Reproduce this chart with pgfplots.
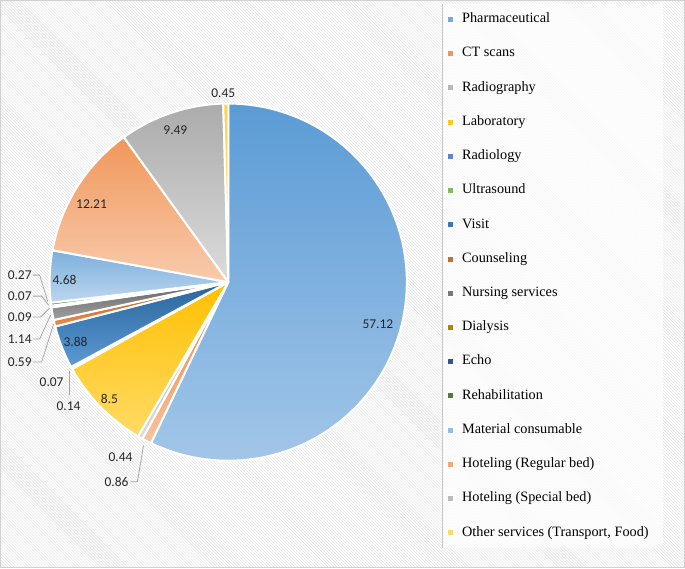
\documentclass[border=0pt]{standalone}
\usepackage{pgfplots}
\pgfplotsset{compat=1.18}
\usepackage{pgfplotstable}
\usetikzlibrary{patterns}
\usepackage{fontspec}
\setmainfont{Liberation Serif}
\newfontfamily\labfont{Carlito}

% slice colours: t = top of gradient, b = bottom of gradient
\definecolor{c0t}{HTML}{5B9BD5}\definecolor{c0b}{HTML}{A2C6E8}
\definecolor{c1t}{HTML}{ED7D31}\definecolor{c1b}{HTML}{F8C3A0}
\definecolor{c2t}{HTML}{A5A5A5}\definecolor{c2b}{HTML}{DBDBDB}
\definecolor{c3t}{HTML}{FFC000}\definecolor{c3b}{HTML}{FFDA66}
\definecolor{c4t}{HTML}{4472C4}\definecolor{c4b}{HTML}{8FAADC}
\definecolor{c5t}{HTML}{70AD47}\definecolor{c5b}{HTML}{A9D18E}
\definecolor{c6t}{HTML}{2A659C}\definecolor{c6b}{HTML}{5C9AD4}
\definecolor{c7t}{HTML}{B85A1C}\definecolor{c7b}{HTML}{ED8A4A}
\definecolor{c8t}{HTML}{636363}\definecolor{c8b}{HTML}{A0A0A0}
\definecolor{c9t}{HTML}{997300}\definecolor{c9b}{HTML}{D4A500}
\definecolor{c10t}{HTML}{264478}\definecolor{c10b}{HTML}{4F74B8}
\definecolor{c11t}{HTML}{43682B}\definecolor{c11b}{HTML}{6FA14A}
\definecolor{c12t}{HTML}{7CAFDD}\definecolor{c12b}{HTML}{BDD7EE}
\definecolor{c13t}{HTML}{F1975A}\definecolor{c13b}{HTML}{F8CBAD}
\definecolor{c14t}{HTML}{ABABAB}\definecolor{c14b}{HTML}{DCDCDC}
\definecolor{c15t}{HTML}{FFD24D}\definecolor{c15b}{HTML}{FFE699}

\pgfplotstableread{
value
57.12
0.86
0.44
8.5
0.14
0.07
3.88
0.59
1.14
0.09
0.07
0.27
4.68
12.21
9.49
0.45
}\pietable

\xdef\cumul{0}
\foreach \i in {0,...,15}{%
  \pgfplotstablegetelem{\i}{value}\of\pietable
  \pgfmathsetmacro\tmpa{90-3.6*\cumul}%
  \pgfmathsetmacro\tmpc{\cumul+\pgfplotsretval}%
  \pgfmathsetmacro\tmpb{90-3.6*\tmpc}%
  \expandafter\xdef\csname pieA\i\endcsname{\tmpa}%
  \expandafter\xdef\csname pieB\i\endcsname{\tmpb}%
  \xdef\cumul{\tmpc}%
}

\begin{document}
\begin{tikzpicture}
\begin{axis}[
  scale only axis, width=685pt, height=568pt,
  xmin=0, xmax=685, ymin=0, ymax=568, y dir=reverse,
  hide axis, clip=false,
  legend style={at={(axis cs:447,12)}, anchor=north west, draw=none, fill=none,
    inner sep=0pt, outer sep=0pt,
    font=\fontsize{14.3}{16}\selectfont, row sep=21.3pt,
    nodes={inner sep=0pt, text height=10pt, text depth=3pt},
    /tikz/every odd column/.append style={column sep=8pt}},
  legend cell align=left,
]
% background
\fill[pattern=north west lines, pattern color=gray!26] (axis cs:0,0) rectangle (axis cs:685,568);
\fill[white, opacity=0.65] (axis cs:443,3) rectangle (axis cs:664,548);
\draw[gray!45, line width=1pt] (axis cs:443,3) -- (axis cs:443,548);
\draw[gray!35, line width=1.5pt] (axis cs:0,0) rectangle (axis cs:685,568);

% slices
\pgfplotsinvokeforeach{0,...,15}{
  \addplot[forget plot, draw=white, line width=2pt, line join=round,
    top color=c#1t, bottom color=c#1b,
    domain=\csname pieB#1\endcsname:\csname pieA#1\endcsname, samples=90, variable=\t]
    ({228+179*cos(\t)},{282-179*sin(\t)}) -- (axis cs:228,282) -- cycle;
}

% leader lines
\addplot[forget plot, gray!70, line width=0.8pt] coordinates {(32,275) (39,275) (47,301)};
\addplot[forget plot, gray!70, line width=0.8pt] coordinates {(32,296) (41,296) (48,305)};
\addplot[forget plot, gray!70, line width=0.8pt] coordinates {(32,317) (40,317) (49,308)};
\addplot[forget plot, gray!70, line width=0.8pt] coordinates {(32,339) (39,339) (50,315)};
\addplot[forget plot, gray!70, line width=0.8pt] coordinates {(32,362) (41,362) (53,324)};
\addplot[forget plot, gray!70, line width=0.8pt] coordinates {(69,395) (69,371)};
\addplot[forget plot, gray!70, line width=0.8pt] coordinates {(130,482) (137,482) (143,446)};

% data labels
\begin{scope}[every node/.style={font=\labfont\fontsize{13.5}{15}\selectfont, text=black!85}]
\node at (axis cs:378,324) {57.12};
\node at (axis cs:91,204) {12.21};
\node at (axis cs:175,130) {9.49};
\node at (axis cs:223,93) {0.45};
\node at (axis cs:64,280) {4.68};
\node at (axis cs:75,342) {3.88};
\node at (axis cs:109,399) {8.5};
\node at (axis cs:19,275) {0.27};
\node at (axis cs:19,296) {0.07};
\node at (axis cs:19,317) {0.09};
\node at (axis cs:19,339) {1.14};
\node at (axis cs:19,362) {0.59};
\node at (axis cs:51,382) {0.07};
\node at (axis cs:68,406) {0.14};
\node at (axis cs:120,457) {0.44};
\node at (axis cs:116,482) {0.86};
\end{scope}

% legend
\pgfplotsinvokeforeach{0,...,15}{
  \addlegendimage{legend image code/.code={\fill[white] (0pt,-3.5pt) rectangle (7pt,3.5pt);
    \fill[color=c#1t!65!c#1b] (1.5pt,-2pt) rectangle (5.5pt,2pt);}}
}
\legend{Pharmaceutical, CT scans, Radiography, Laboratory, Radiology, Ultrasound,
  Visit, Counseling, Nursing services, Dialysis, Echo, Rehabilitation,
  Material consumable, Hoteling (Regular bed), Hoteling (Special bed),
  {Other services (Transport, Food)}}
\end{axis}
\end{tikzpicture}
\end{document}
